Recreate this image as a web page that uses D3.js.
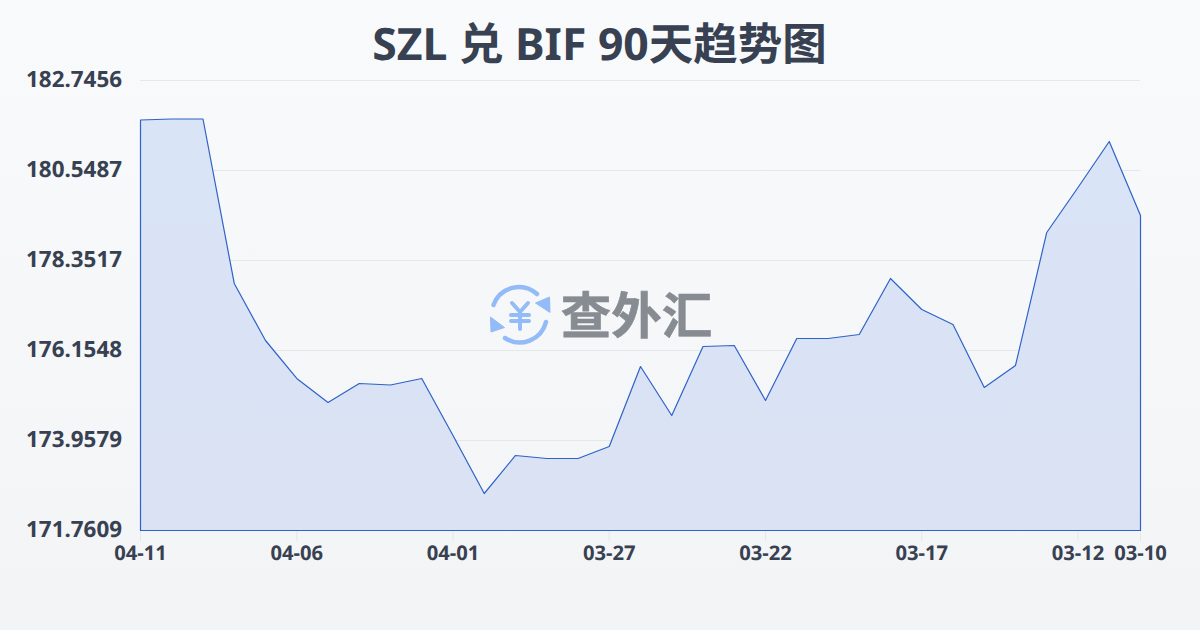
<!DOCTYPE html>
<html><head><meta charset="utf-8">
<script src="https://cdn.jsdelivr.net/npm/d3@7/dist/d3.min.js"></script>
<style>html,body{margin:0;padding:0;width:1200px;height:630px;overflow:hidden}svg{display:block;text-rendering:geometricPrecision}</style>
</head><body><svg id="c" width="1200" height="630"></svg>
<script>
const titleText = "SZL 兑 BIF 90天趋势图";
const dates = ["04-11","04-10","04-09","04-08","04-07","04-06","04-05","04-04","04-03","04-02","04-01","03-31","03-30","03-29","03-28","03-27","03-26","03-25","03-24","03-23","03-22","03-21","03-20","03-19","03-18","03-17","03-16","03-15","03-14","03-13","03-12","03-11","03-10"];
const rates = [181.782,181.806,181.806,177.791,176.399,175.472,174.886,175.349,175.313,175.472,174.080,172.664,173.592,173.519,173.519,173.812,175.764,174.568,176.253,176.277,174.935,176.448,176.448,176.546,177.913,177.156,176.790,175.252,175.789,179.036,180.134,181.257,179.451];
const yTicks = [171.7609,173.9579,176.1548,178.3517,180.5487,182.7456];
const xTicks = ["04-11","04-06","04-01","03-27","03-22","03-17","03-12","03-10"];
const font = "'Noto Sans','Noto Sans CJK SC',sans-serif";
const ink = "#374151";

const svg = d3.select("#c");
const defs = svg.append("defs");
const bg = defs.append("linearGradient").attr("id","bg").attr("x1",0).attr("y1",0).attr("x2",0).attr("y2",1);
bg.append("stop").attr("offset",0).attr("stop-color","#f8fafc");
bg.append("stop").attr("offset",1).attr("stop-color","#f3f4f6");
const ag = defs.append("linearGradient").attr("id","ag").attr("gradientUnits","userSpaceOnUse").attr("x1",0).attr("y1",118).attr("x2",0).attr("y2",530);
ag.append("stop").attr("offset",0).attr("stop-color","#d7e3f6");
ag.append("stop").attr("offset",1).attr("stop-color","#d9e1f3");
svg.append("rect").attr("width",1200).attr("height",630).attr("fill","url(#bg)");

const x = d3.scalePoint().domain(d3.range(dates.length)).range([140.5,1140.5]);
const y = d3.scaleLinear().domain([yTicks[0],yTicks[5]]).range([530.5,80.5]);

// grid
svg.append("g").selectAll("line").data(yTicks).join("line")
  .attr("x1",140).attr("x2",1140).attr("y1",d=>y(d)).attr("y2",d=>y(d))
  .attr("stroke","#e5e7eb").attr("stroke-width",1);

// x tick marks
svg.append("g").selectAll("line").data(xTicks).join("line")
  .attr("x1",d=>x(dates.lastIndexOf(d))).attr("x2",d=>x(dates.lastIndexOf(d)))
  .attr("y1",530).attr("y2",541).attr("stroke","#e5e7eb");

// watermark
const wm = svg.append("g");
const blue = "#93bbf7";
wm.append("path").attr("fill","none").attr("stroke",blue).attr("stroke-width",4.5).attr("stroke-linecap","round")
  .attr("d","M493.5 305A27 27 0 0 1 537 294");
wm.append("path").attr("fill","none").attr("stroke",blue).attr("stroke-width",4.5).attr("stroke-linecap","round")
  .attr("d","M546 322A27 27 0 0 1 505 338");
wm.append("path").attr("fill",blue).attr("stroke",blue).attr("stroke-linejoin","round").attr("d","M549.5 297L550 312.5L535.5 303Z");
wm.append("path").attr("fill",blue).attr("stroke",blue).attr("stroke-linejoin","round").attr("d","M490.5 317L491 332L504.5 327.5Z");
wm.append("path").attr("fill","none").attr("stroke",blue).attr("stroke-width",4).attr("stroke-linecap","round").attr("stroke-linejoin","round")
  .attr("d","M512 303L520 312L528 303M511 315H529M511 321H529M520 312V329");
wm.append("text").attr("x",636.5).attr("y",333.5).attr("text-anchor","middle")
  .attr("font-family","'Noto Sans CJK SC'").attr("font-weight",700).attr("font-size",50.5).attr("fill","#878b92")
  .attr("stroke","#878b92").attr("stroke-width",0.6).text("查外汇");

// area
const area = d3.area().x((d,i)=>x(i)).y0(530.5).y1(d=>y(d));
svg.append("path").datum(rates).attr("d",area)
  .attr("fill","url(#ag)").attr("fill-opacity",0.95)
  .attr("stroke","#2f62c8").attr("stroke-width",1.2).attr("stroke-linejoin","round");

// y labels
svg.append("g").selectAll("text").data(yTicks).join("text")
  .attr("x",122).attr("y",d=>y(d)+6.5).attr("text-anchor","end")
  .attr("font-family",font).attr("font-weight",700).attr("font-size",22.4).attr("fill",ink)
  .text(d=>d.toFixed(4));

// x labels
svg.append("g").selectAll("text").data(xTicks).join("text")
  .attr("x",d=>x(dates.lastIndexOf(d))).attr("y",560).attr("text-anchor","middle")
  .attr("font-family",font).attr("font-weight",700).attr("font-size",20.2).attr("fill",ink)
  .text(d=>d);

// title
svg.append("text").attr("x",599.5).attr("y",60).attr("text-anchor","middle")
  .attr("font-family",font).attr("font-weight",700).attr("font-size",44.5).attr("fill",ink).text(titleText);
</script></body></html>
